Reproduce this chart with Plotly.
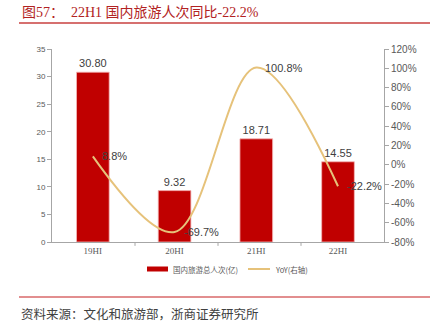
import plotly.graph_objects as go

categories = ["19HI", "20HI", "21HI", "22HI"]
trips = [30.80, 9.32, 18.71, 14.55]
yoy = [8.8, -69.7, 100.8, -22.2]
bar_labels = ["30.80", "9.32", "18.71", "14.55"]
yoy_labels = ["8.8%", "-69.7%", "100.8%", "-22.2%"]
left_ticks = [0, 5, 10, 15, 20, 25, 30, 35]
right_ticks = [-80, -60, -40, -20, 0, 20, 40, 60, 80, 100, 120]
series_names = ["国内旅游总人次(亿)", "YoY(右轴)"]

RED = "#C00000"
GOLD = "#E6C27A"
GRAY = "#595959"
SANS = "Liberation Sans, Arial, Noto Sans CJK SC"
SERIF = "Liberation Serif, Noto Sans CJK SC"

# pixel -> paper helpers (plot area: x 52..384, y 49..242)
def px(x):
    return (x - 52) / 332

def py(y):
    return (242 - y) / 193

fig = go.Figure()
fig.add_trace(go.Bar(
    x=categories, y=trips, name=series_names[0],
    marker=dict(color=RED, line=dict(color="#F4B8B8", width=0.8)),
    text=bar_labels, textposition="outside", cliponaxis=False,
    textfont=dict(family=SANS, size=11, color="#404040"),
))
fig.add_trace(go.Scatter(
    x=categories, y=yoy, name=series_names[1], yaxis="y2", mode="lines",
    line=dict(color=GOLD, width=2, shape="spline", smoothing=1.0),
    cliponaxis=False,
))
for c, v, t in zip(categories, yoy, yoy_labels):
    fig.add_annotation(x=c, y=v, yref="y2", text=t, showarrow=False,
                       xanchor="left", xshift=7, yanchor="middle",
                       font=dict(family=SANS, size=11, color="#404040"))

fig.update_layout(
    width=437, height=331,
    margin=dict(l=52, r=53, t=49, b=89),
    paper_bgcolor="white", plot_bgcolor="white",
    bargap=0.6,
    showlegend=False,
    xaxis=dict(showline=True, linecolor="#A6A6A6", linewidth=1,
               ticks="", tickfont=dict(family=SERIF, size=9, color=GRAY),
               showgrid=False, zeroline=False),
    yaxis=dict(range=[0, 35], tickvals=left_ticks, showline=True, linecolor="#A6A6A6",
               ticks="outside", ticklen=4, tickcolor="#A6A6A6",
               tickfont=dict(family=SANS, size=8, color=GRAY),
               showgrid=False, zeroline=False),
    yaxis2=dict(range=[-80, 120], tickvals=right_ticks,
                ticktext=[f"{v}%" for v in right_ticks], overlaying="y", side="right",
                showline=True, linecolor="#A6A6A6", ticks="outside", ticklen=4,
                tickcolor="#A6A6A6", tickfont=dict(family=SANS, size=10, color=GRAY),
                showgrid=False, zeroline=False),
)

# category boundary ticks on the x axis
for xb in [0.25, 0.5, 0.75]:
    fig.add_shape(type="line", xref="paper", yref="paper", x0=xb, x1=xb, y0=0, y1=-0.02,
                  line=dict(color="#A6A6A6", width=1))

# custom legend
fig.add_shape(type="rect", xref="paper", yref="paper", x0=px(147), x1=px(168),
              y0=py(271.5), y1=py(266.5), fillcolor=RED, line=dict(width=0))
fig.add_annotation(xref="paper", yref="paper", x=px(171), y=py(269), xanchor="left",
                   yanchor="middle", text=series_names[0], showarrow=False,
                   font=dict(family="Noto Sans CJK SC", size=7.5, color=GRAY))
fig.add_shape(type="line", xref="paper", yref="paper", x0=px(248), x1=px(270),
              y0=py(269), y1=py(269), line=dict(color=GOLD, width=2))
fig.add_annotation(xref="paper", yref="paper", x=px(273), y=py(269), xanchor="left",
                   yanchor="middle", text=series_names[1], showarrow=False,
                   font=dict(family="Noto Sans CJK SC", size=7.5, color=GRAY))

# title and rules
fig.add_annotation(xref="paper", yref="paper", x=px(20), y=py(12), xanchor="left", yanchor="middle",
                   text="图57：  22H1 国内旅游人次同比-22.2%", showarrow=False,
                   font=dict(family=SERIF, size=14, color="#B22222"))
fig.add_shape(type="line", xref="paper", yref="paper", x0=px(19), x1=px(430), y0=py(23), y1=py(23),
              line=dict(color="#C8403F", width=1.5))
fig.add_shape(type="line", xref="paper", yref="paper", x0=px(19), x1=px(430), y0=py(297), y1=py(297),
              line=dict(color="#D9696A", width=1.5))
fig.add_annotation(xref="paper", yref="paper", x=px(19), y=py(313), xanchor="left", yanchor="middle",
                   text="资料来源：文化和旅游部，浙商证券研究所", showarrow=False,
                   font=dict(family="Noto Sans CJK SC", size=12.5, color="#404040"))

fig.write_html("out.html")
